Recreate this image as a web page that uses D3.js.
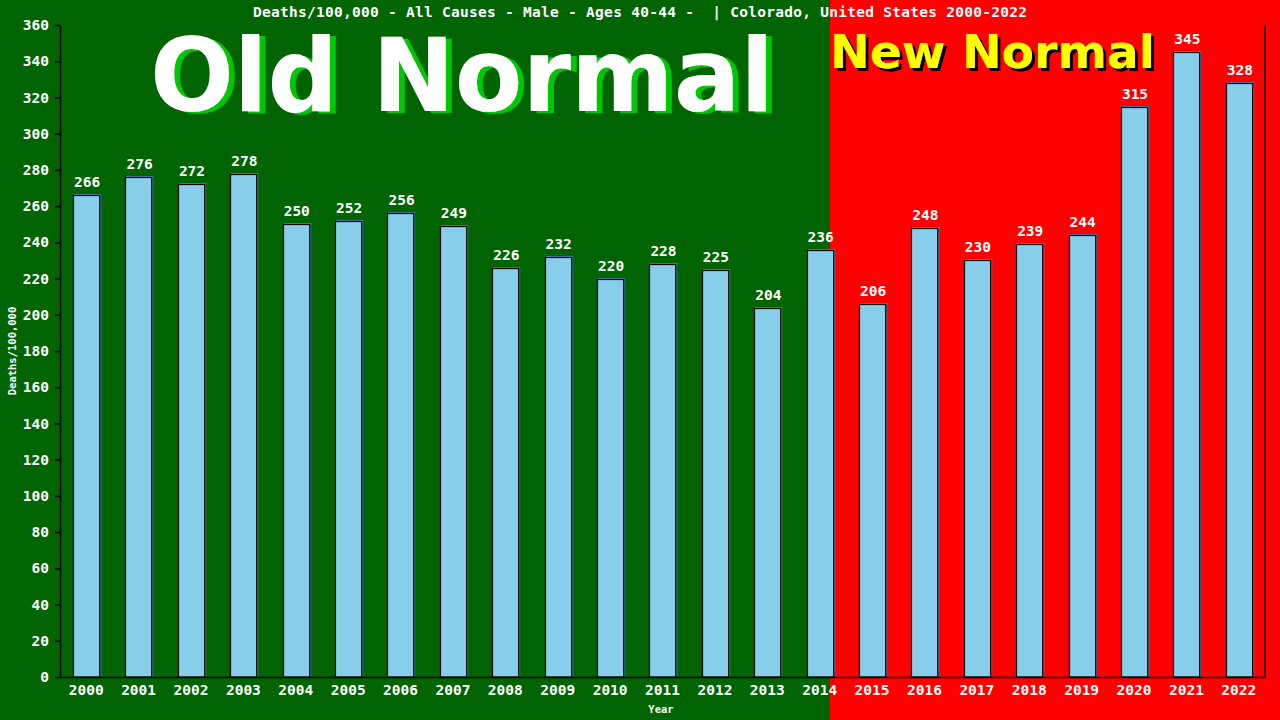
<!DOCTYPE html>
<html><head><meta charset="utf-8">
<script src="https://cdn.jsdelivr.net/npm/d3@7"></script>
<style>body{margin:0;background:#000}svg{display:block}text{white-space:pre}</style>
</head><body><svg id="c" width="1280" height="720"></svg>
<script>
const years = ["2000","2001","2002","2003","2004","2005","2006","2007","2008","2009","2010","2011","2012","2013","2014","2015","2016","2017","2018","2019","2020","2021","2022"];
const deaths = [266,276,272,278,250,252,256,249,226,232,220,228,225,204,236,206,248,230,239,244,315,345,328];
const yTicks = [0,20,40,60,80,100,120,140,160,180,200,220,240,260,280,300,320,340,360];
const title = "Deaths/100,000 - All Causes - Male - Ages 40-44 -  | Colorado, United States 2000-2022";

const W = 1280, H = 720;
const m = {l:60, r:15, t:25, b:43};
const svg = d3.select("#c");
const mono = "'DejaVu Sans Mono', 'Liberation Mono', monospace";

const x = d3.scaleBand().domain(years).range([m.l, W - m.r]).paddingInner(0.5).paddingOuter(0.25);
const y = d3.scaleLinear().domain([0, 360]).range([H - m.b, m.t]);

const defs = svg.append("defs");
defs.append("filter").attr("id","shG").attr("x","-5%").attr("y","-20%").attr("width","115%").attr("height","150%")
  .append("feDropShadow").attr("dx",6).attr("dy",2).attr("stdDeviation",0).attr("flood-color","#00c800").attr("flood-opacity",1);
defs.append("filter").attr("id","shK").attr("x","-5%").attr("y","-20%").attr("width","115%").attr("height","150%")
  .append("feDropShadow").attr("dx",3).attr("dy",3).attr("stdDeviation",0).attr("flood-color","#000").attr("flood-opacity",1);

// backgrounds
const split = 830;
svg.append("rect").attr("x",0).attr("y",0).attr("width",split).attr("height",H).attr("fill","#006400");
svg.append("rect").attr("x",split).attr("y",0).attr("width",W-split).attr("height",H).attr("fill","#ff0000");

// big labels
const bigFont = "'DejaVu Sans', Verdana, sans-serif";
svg.append("text").attr("x",150).attr("y",111).attr("font-family",bigFont).attr("font-weight","bold")
  .attr("font-size",102).attr("textLength",624).attr("lengthAdjust","spacingAndGlyphs")
  .attr("fill","#ffffff").attr("filter","url(#shG)").text("Old Normal");
svg.append("text").attr("x",830).attr("y",68).attr("font-family",bigFont).attr("font-weight","bold")
  .attr("font-size",47).attr("textLength",325).attr("lengthAdjust","spacingAndGlyphs")
  .attr("fill","#ffff00").attr("filter","url(#shK)").text("New Normal");

// title
svg.append("text").attr("x",640).attr("y",17).attr("text-anchor","middle").attr("font-family",mono)
  .attr("font-weight","bold").attr("font-size",14.5).attr("textLength",774).attr("lengthAdjust","spacing")
  .attr("fill","#fff").text(title);

// bars
const bw = x.bandwidth();
const g = svg.append("g");
years.forEach((yr,i) => {
  const bx = Math.round(x(yr)) + 0.5, by = Math.round(y(deaths[i])) + 0.5;
  const bh = y(0) - by;
  g.append("rect").attr("x",bx+1).attr("y",by-1).attr("width",bw).attr("height",bh+1)
    .attr("fill","none").attr("stroke","#4682b4").attr("stroke-width",1);
  g.append("rect").attr("x",bx).attr("y",by).attr("width",bw).attr("height",bh)
    .attr("fill","#87ceeb").attr("stroke","#000").attr("stroke-width",1.2);
  g.append("text").attr("x",x(yr)+bw/2+1).attr("y",y(deaths[i])-8).attr("text-anchor","middle")
    .attr("font-family",mono).attr("font-weight","bold").attr("font-size",14.5).attr("fill","#fff")
    .text(deaths[i]);
});

// y axis
const ya = svg.append("g").attr("transform",`translate(${m.l},0)`)
  .call(d3.axisLeft(y).tickValues(yTicks).tickSize(5).tickPadding(6).tickSizeOuter(0));
ya.select(".domain").attr("stroke","#000").attr("stroke-width",1.5);
ya.selectAll(".tick line").attr("stroke","#000").attr("stroke-width",1.5);
ya.selectAll(".tick text").attr("fill","#fff").attr("font-family",mono).attr("font-weight","bold").attr("font-size",14.5);

// x axis
const xa = svg.append("g").attr("transform",`translate(0,${H-m.b})`)
  .call(d3.axisBottom(x).tickSize(0).tickPadding(8).tickSizeOuter(0));
xa.select(".domain").attr("stroke","#000").attr("stroke-width",1.5);
xa.selectAll(".tick text").attr("fill","#fff").attr("font-family",mono).attr("font-weight","bold").attr("font-size",14.5);

// right border
svg.append("line").attr("x1",W-m.r).attr("x2",W-m.r).attr("y1",m.t).attr("y2",H-m.b).attr("stroke","#000").attr("stroke-width",1.5);

// axis titles
svg.append("text").attr("x",661).attr("y",713).attr("text-anchor","middle").attr("font-family",mono)
  .attr("font-weight","bold").attr("font-size",10.5).attr("fill","#fff").text("Year");
svg.append("text").attr("transform",`translate(16,${(m.t + H - m.b)/2}) rotate(-90)`).attr("text-anchor","middle")
  .attr("font-family",mono).attr("font-weight","bold").attr("font-size",10.5).attr("fill","#fff").text("Deaths/100,000");
</script></body></html>
